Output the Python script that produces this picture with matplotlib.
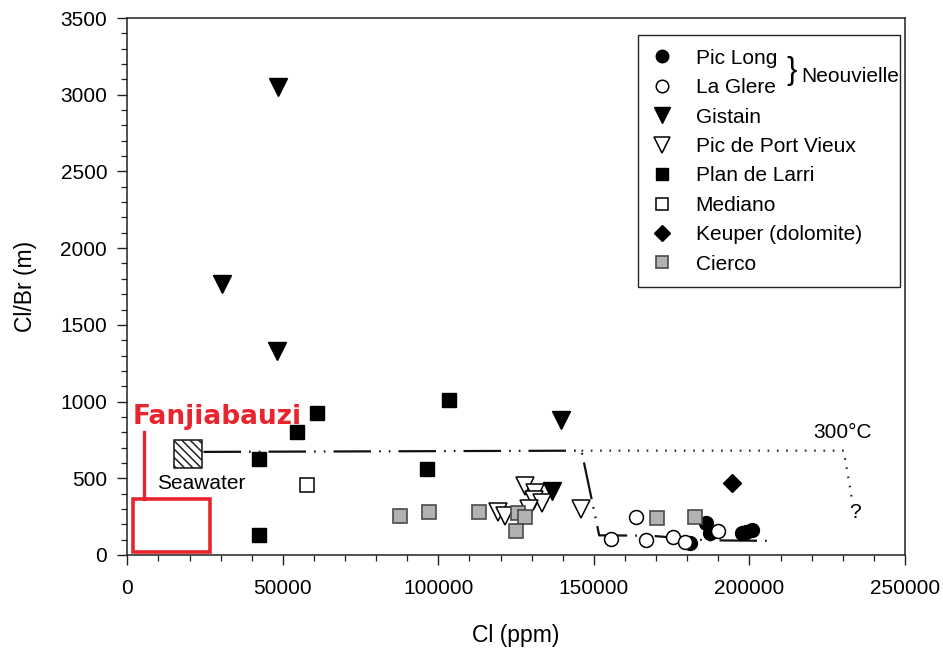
import matplotlib
matplotlib.use("Agg")
import matplotlib.pyplot as plt
from matplotlib.patches import Rectangle
from matplotlib.ticker import MultipleLocator

plt.rcParams['font.family'] = ['Liberation Sans', 'DejaVu Sans']
plt.rcParams['lines.scale_dashes'] = False
plt.rcParams['hatch.linewidth'] = 1.1

# ---- data (Cl ppm, Cl/Br molar) ----
pic_long_cl = [180800, 186000, 187300, 197600, 199000, 200800]
pic_long_r = [78, 207, 141, 141, 152, 163]

la_glere_cl = [155500, 163500, 166800, 175300, 179300, 190000]
la_glere_r = [104, 250, 98, 119, 83, 156]

gistain_cl = [48600, 30500, 48100, 139400, 136400]
gistain_r = [3052, 1766, 1327, 877, 420]

port_vieux_cl = [119100, 121400, 127700, 131100, 130600, 133300, 129000, 145800]
port_vieux_r = [278, 254, 450, 402, 358, 341, 300, 302]

larri_cl = [103400, 61000, 54600, 42300, 96400, 42300]
larri_r = [1010, 928, 800, 625, 560, 133]

mediano_cl = [57800]
mediano_r = [456]

keuper_cl = [194300]
keuper_r = [467]

cierco_cl = [87700, 97100, 113000, 125500, 127700, 125000, 170200, 182500]
cierco_r = [256, 278, 278, 272, 250, 158, 243, 250]

seawater_cl = [19400]
seawater_r = [658]

# evaporation / mixing trend lines
trend_cl = [24500, 146000, 151700, 168000, 186000, 208000]
trend_r = [672, 680, 128, 126, 96, 92]
t300_cl = [146000, 230300, 232900]
t300_r = [680, 680, 371]

# Fanjiabauzi field (Cl range, Cl/Br range)
fj_cl = [1900, 26500]
fj_r = [20, 364]

RED = '#e8252e'

fig = plt.figure(figsize=(9.43, 6.5), dpi=100)
ax = fig.add_axes([127.3 / 943, 95 / 650, 777.7 / 943, 537 / 650])

dash_dot_dot = (0, (27, 5.8, 1.2, 5.8, 1.2, 5.8))
ax.plot(trend_cl, trend_r, color='#111111', lw=1.6, linestyle=dash_dot_dot, zorder=2)
ax.plot(t300_cl, t300_r, color='#222222', lw=1.5, linestyle=(0, (1.2, 5.5)), zorder=2)

ms_tri = 12.5
kw = dict(linestyle='none', zorder=3)
ax.plot(pic_long_cl, pic_long_r, marker='o', ms=10, mfc='black', mec='black', label='Pic Long', **kw)
ax.plot(la_glere_cl, la_glere_r, marker='o', ms=10, mfc='white', mec='black', mew=1.1, label='La Glere', **kw)
ax.plot(gistain_cl, gistain_r, marker='v', ms=ms_tri, mfc='black', mec='black', label='Gistain', **kw)
ax.plot(port_vieux_cl, port_vieux_r, marker='v', ms=ms_tri, mfc='white', mec='black', mew=1.1,
        label='Pic de Port Vieux', **kw)
ax.plot(larri_cl, larri_r, marker='s', ms=9.5, mfc='black', mec='black', label='Plan de Larri', **kw)
ax.plot(mediano_cl, mediano_r, marker='s', ms=9.5, mfc='white', mec='black', mew=1.1, label='Mediano', **kw)
ax.plot(keuper_cl, keuper_r, marker='D', ms=9.5, mfc='black', mec='black', label='Keuper (dolomite)', **kw)
ax.plot(cierco_cl, cierco_r, marker='s', ms=10, mfc='#b2b2b2', mec='#4a4a4a', mew=1.2, label='Cierco', **kw)

ax.scatter(seawater_cl, seawater_r, marker='s', s=20 ** 2, facecolor='white', edgecolor='#222222',
           linewidth=1.2, hatch='\\\\\\\\', zorder=3)
ax.text(23800, 469, 'Seawater', ha='center', va='center', fontsize=15)

# Fanjiabauzi box
ax.add_patch(Rectangle((fj_cl[0], fj_r[0]), fj_cl[1] - fj_cl[0], fj_r[1] - fj_r[0],
                       fill=False, edgecolor=RED, lw=2.6, zorder=4))
ax.plot([5400, 5400], [fj_r[1], 800], color=RED, lw=2.4, zorder=4)
ax.text(1800, 855, 'Fanjiabauzi', color=RED, fontsize=19, fontweight='bold',
        family='DejaVu Sans', ha='left', va='baseline')

ax.text(229800, 735, '300°C', ha='center', va='bottom', fontsize=15)
ax.text(234000, 280, '?', ha='center', va='center', fontsize=15)

ax.set_xlim(0, 250000)
ax.set_ylim(0, 3500)
ax.xaxis.set_major_locator(MultipleLocator(50000))
ax.xaxis.set_minor_locator(MultipleLocator(10000))
ax.yaxis.set_major_locator(MultipleLocator(500))
ax.yaxis.set_minor_locator(MultipleLocator(100))
ax.tick_params(axis='both', which='major', direction='out', length=7.5, width=1.0, labelsize=15, colors='#222222',
               labelcolor='black')
ax.tick_params(axis='both', which='minor', direction='out', length=4.5, width=0.9, colors='#222222')
ax.tick_params(axis='x', which='major', pad=10)
ax.tick_params(axis='y', which='major', pad=7)
for s in ax.spines.values():
    s.set_linewidth(1.1)
    s.set_color('#222222')

ax.set_xlabel('Cl (ppm)', fontsize=16.5)
ax.set_ylabel('Cl/Br (m)', fontsize=16.5)
ax.xaxis.set_label_coords(0.5, -0.128)
ax.yaxis.set_label_coords(-0.116, 0.5)

leg = ax.legend(loc='upper left', bbox_to_anchor=(0.657, 0.503, 0.337, 0.465), mode='expand',
                borderaxespad=0, fontsize=15, handlelength=1.0, handletextpad=1.1, borderpad=0.65,
                labelspacing=0.5, frameon=True, fancybox=False, framealpha=1, markerscale=0.9)
leg.get_frame().set_edgecolor('#222222')
leg.get_frame().set_linewidth(1.0)

ax.text(0.8535, 0.902, '}', transform=ax.transAxes, fontsize=22, ha='center', va='center', zorder=10)
ax.text(0.866, 0.891, 'Neouvielle', transform=ax.transAxes, fontsize=15, ha='left', va='center', zorder=10)

fig.savefig('out.png', dpi=100)
